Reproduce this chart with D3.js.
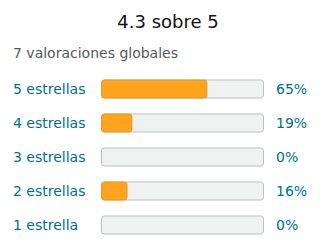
<!DOCTYPE html>
<html>
<head>
<meta charset="utf-8">
<script src="https://cdn.jsdelivr.net/npm/d3@7"></script>
<style>
	body { margin: 0; background: #fff; }
	text { font-family: "DejaVu Sans", sans-serif; }
</style>
</head>
<body>
<svg id="svg"></svg>
<script>
const title = '4.3 sobre 5'
const subtitle = '7 valoraciones globales'
const labels = ['5 estrellas', '4 estrellas', '3 estrellas', '2 estrellas', '1 estrella']
const percents = [65, 19, 0, 16, 0]

const width = 320, height = 252

const svg = d3.select('#svg')
	.attr('width', width)
	.attr('height', height)

// track runs from 101 to 264
const x = d3.scaleLinear().domain([0, 100]).range([101, 264])
const y = d3.scaleBand().domain(labels).range([72, 242]).paddingInner(0.44).paddingOuter(0.22)

svg.append('text')
	.attr('x', 168)
	.attr('y', 28)
	.attr('text-anchor', 'middle')
	.attr('font-size', 18)
	.attr('fill', '#0f1111')
	.text(title)

svg.append('text')
	.attr('x', 13)
	.attr('y', 58)
	.attr('font-size', 14)
	.attr('fill', '#565959')
	.text(subtitle)

const rows = svg.selectAll('g.row')
	.data(labels.map((l, i) => ({label: l, pct: percents[i]})))
	.enter()
	.append('g')
	.attr('class', 'row')

rows.append('text')
	.attr('x', 13)
	.attr('y', d => y(d.label) + y.bandwidth() / 2 + 5)
	.attr('font-size', 14)
	.attr('fill', '#007185')
	.text(d => d.label)

rows.append('rect')
	.attr('x', x(0) + 0.5)
	.attr('y', d => y(d.label) + 0.5)
	.attr('width', x(100) - x(0) - 1)
	.attr('height', y.bandwidth() - 1)
	.attr('rx', 3)
	.attr('fill', '#f0f2f2')
	.attr('stroke', '#bbbfbf')

rows.filter(d => d.pct > 0)
	.append('rect')
	.attr('x', x(0) + 0.5)
	.attr('y', d => y(d.label) + 0.5)
	.attr('width', d => x(d.pct) - x(0) - 0.5)
	.attr('height', y.bandwidth() - 1)
	.attr('rx', 3)
	.attr('fill', '#ffa41c')
	.attr('stroke', '#e39420')
	.attr('stroke-width', 0.8)

rows.append('text')
	.attr('x', 276)
	.attr('y', d => y(d.label) + y.bandwidth() / 2 + 5)
	.attr('font-size', 14)
	.attr('fill', '#007185')
	.text(d => d.pct + '%')
</script>
</body>
</html>
